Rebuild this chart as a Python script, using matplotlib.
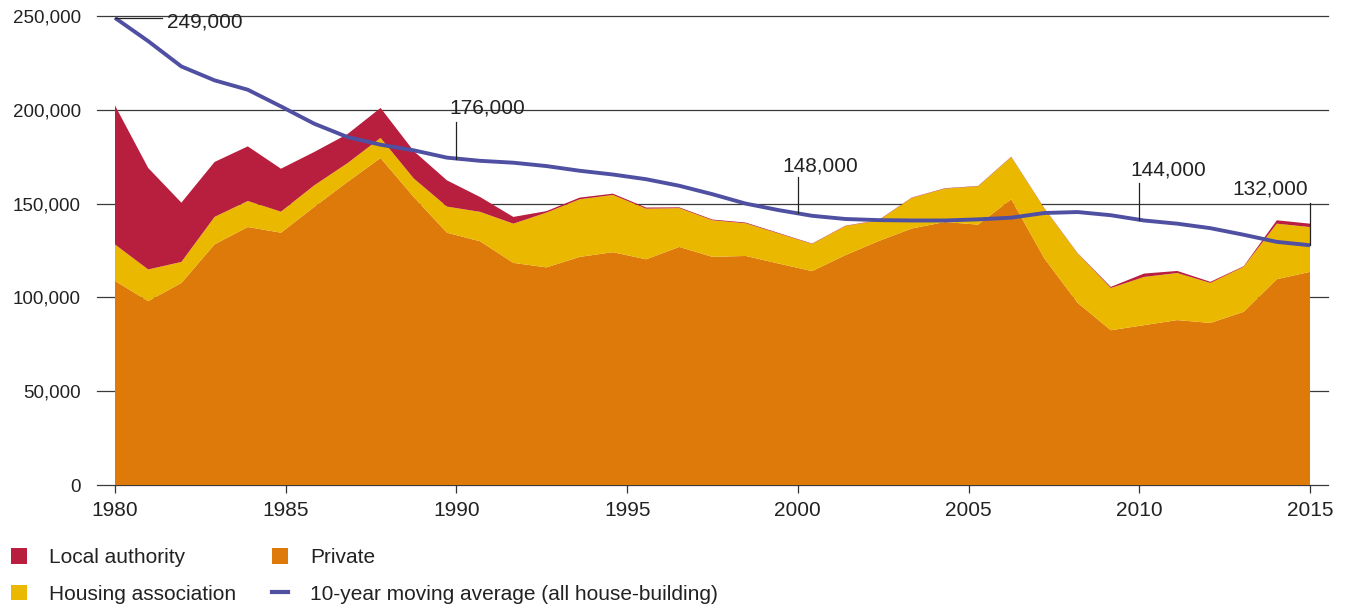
import numpy as np
import matplotlib
matplotlib.use("Agg")
import matplotlib.pyplot as plt
from matplotlib.patches import Patch
from matplotlib.lines import Line2D

plt.rcParams['font.family'] = ['Liberation Sans', 'DejaVu Sans']

# ---- data ---------------------------------------------------------------------
# 37 points spread evenly over the 1980-2015 axis
private = [108800, 98000, 107700, 128300, 137500, 134500, 148200, 161500, 174300,
           153500, 134500, 129900, 118400, 116000, 121600, 124100, 120300, 126900,
           121600, 122100, 118000, 114000, 122500, 130000, 136700, 140200, 138800,
           152300, 120700, 97100, 82500, 85200, 87900, 86400, 92300, 109700, 113600]
housing_assoc_top = [128200, 114900, 118900, 142900, 151400, 145700, 159700, 171500, 185000,
                     163400, 148400, 145600, 139300, 145200, 152300, 154600, 147300, 147600,
                     141100, 139500, 134000, 128500, 138000, 141000, 153000, 158000, 159200,
                     174800, 147300, 123400, 105000, 110900, 113000, 107700, 116300, 139300, 137500]
total = [202300, 169000, 150500, 172200, 180500, 168600, 177500, 187000, 201000,
         178000, 162400, 153500, 142900, 146000, 153200, 155300, 147900, 148000,
         141500, 139900, 134300, 128700, 138200, 141200, 153200, 158200, 159400,
         175000, 147500, 123600, 105600, 112700, 114100, 108300, 116600, 141100, 139300]
moving_avg = [249000, 236600, 223100, 215700, 210700, 201800, 192600, 185500, 181400,
              178400, 174500, 172800, 171800, 170000, 167500, 165500, 163000, 159500,
              155000, 150000, 146500, 143500, 141800, 141200, 141000, 141000, 141600,
              142500, 145000, 145500, 143800, 141000, 139300, 136900, 133400, 129600, 127800]

year_ticks = [1980, 1985, 1990, 1995, 2000, 2005, 2010, 2015]
y_ticks = [0, 50000, 100000, 150000, 200000, 250000]

# callouts: (label, year of leader line, text x, text y, leader top, alignment)
callouts = [
    ("176,000", 1990, 1989.78, 201000, 193300, 'left'),
    ("148,000", 2000, 1999.54, 170000, 164000, 'left'),
    ("144,000", 2010, 2009.73, 167900, 160800, 'left'),
    ("132,000", 2015, 2014.94, 157800, 150200, 'right'),
]

years = np.linspace(1980, 2015, len(private))
private = np.array(private)
ha = np.array(housing_assoc_top) - private
la = np.array(total) - np.array(housing_assoc_top)
moving_avg = np.array(moving_avg)

c_la = '#B81E3E'
c_ha = '#EBB800'
c_private = '#DE7A0A'
c_line = '#5050A2'
c_text = '#222222'

# ---- figure -------------------------------------------------------------------
W, H = 1352, 609
fig = plt.figure(figsize=(W / 100, H / 100), dpi=100)
ax = fig.add_axes([97 / W, 1 - 485 / H, (1328 - 97) / W, (485 - 16) / H])

xpad = 18 / 34.14
ax.set_xlim(1980 - xpad, 2015 + xpad)
ax.set_ylim(0, 250000)

for v in y_ticks:
    ax.axhline(v, color='#3a3a3a', lw=0.9, zorder=1, clip_on=False)

ax.stackplot(years, private, ha, la, colors=[c_private, c_ha, c_la],
             lw=0, zorder=2)
ax.plot(years, moving_avg, color=c_line, lw=2.8, zorder=3, solid_capstyle='butt')

# callouts
ax.plot([1980, 1981.38], [moving_avg[0], moving_avg[0]], color=c_text, lw=0.9, zorder=4)
ax.text(1981.52, 246800, "249,000", fontsize=15, color=c_text, va='center', ha='left')
for label, yr, tx, ty, top, align in callouts:
    bottom = np.interp(yr, years, moving_avg)
    ax.plot([yr, yr], [top, bottom], color=c_text, lw=0.9, zorder=4)
    ax.text(tx, ty, label, fontsize=15, color=c_text, va='center', ha=align)

for s in ax.spines.values():
    s.set_visible(False)
ax.set_xticks(year_ticks)
ax.set_xticklabels([str(y) for y in year_ticks], fontsize=15, color=c_text)
ax.tick_params(axis='x', length=6, width=0.9, color='#333333', pad=5.5)
ax.set_yticks(y_ticks)
ax.set_yticklabels([f"{v:,}" for v in y_ticks], fontsize=13.5, color=c_text)
ax.tick_params(axis='y', length=0, pad=11.5)

# ---- legend (two columns placed separately) ----------------------------------
legend_kw = dict(loc='upper left', frameon=False, fontsize=15, labelcolor=c_text,
                 handlelength=0.77, handleheight=0.77, handletextpad=1.05,
                 labelspacing=0.85, borderpad=0, borderaxespad=0)
col1 = [
    Patch(facecolor=c_la, edgecolor='none', label='Local authority'),
    Patch(facecolor=c_ha, edgecolor='none', label='Housing association'),
]
col2 = [
    Patch(facecolor=c_private, edgecolor='none', label='Private'),
    Line2D([0], [0], color=c_line, lw=3, label='10-year moving average (all house-building)'),
]
fig.legend(handles=col1, bbox_to_anchor=(11 / W, 1 - 548 / H), **legend_kw)
fig.legend(handles=col2, bbox_to_anchor=(272 / W, 1 - 548 / H), **legend_kw)

fig.savefig('out.png', dpi=100)
